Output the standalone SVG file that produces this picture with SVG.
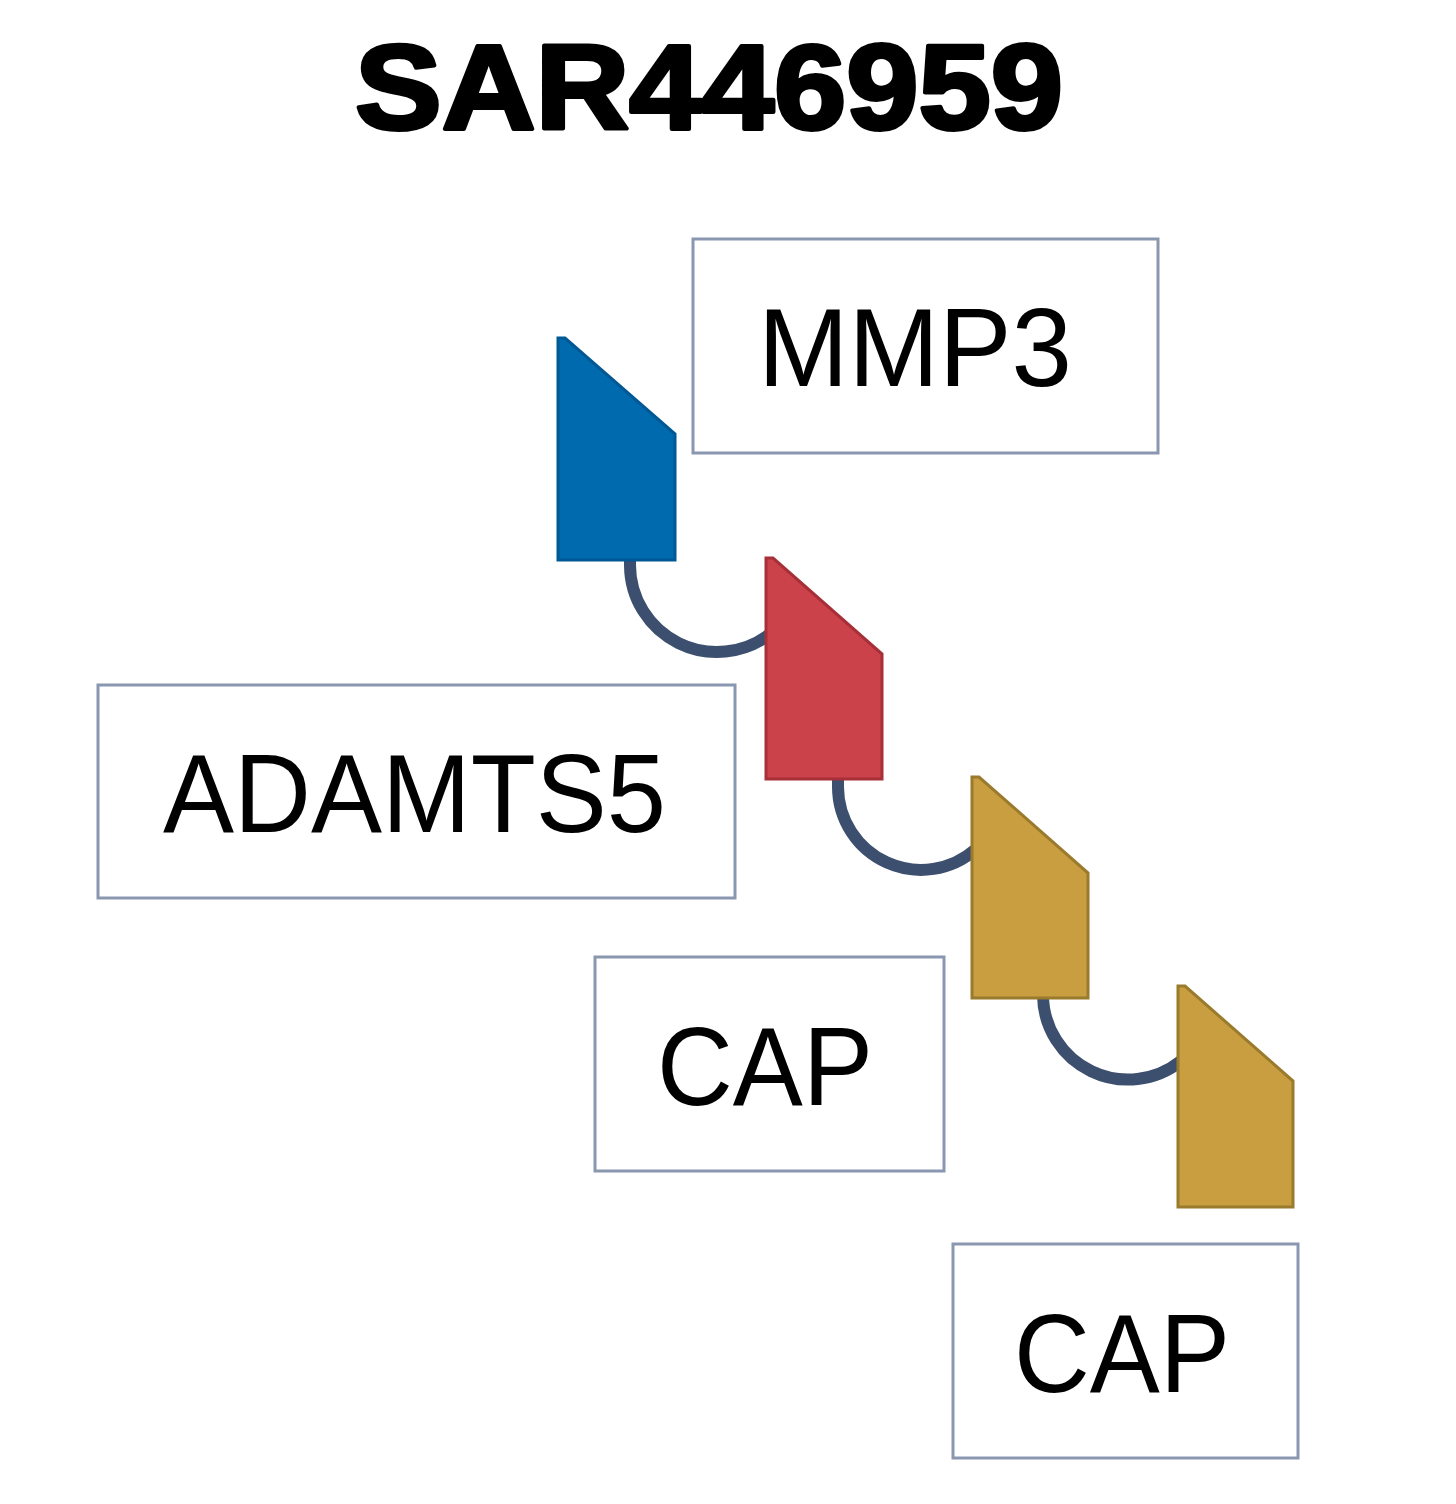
<svg xmlns="http://www.w3.org/2000/svg" width="1456" height="1504" viewBox="0 0 1456 1504">
<style>
.bg{fill:#ffffff}
.title{font-family:"Liberation Sans",Arial,sans-serif;font-weight:bold;font-size:120px;fill:#000;stroke:#000;stroke-width:4px;stroke-linejoin:round}
.box{fill:#ffffff;stroke:#8a97b0;stroke-width:3}
.lbl{font-family:"Liberation Sans",Arial,sans-serif;font-size:112px;fill:#000}
.link{fill:none;stroke:#3d4f6e;stroke-width:12}
.blue{fill:#006aae;stroke:#005894;stroke-width:3}
.red{fill:#cc424b;stroke:#a62f38;stroke-width:3}
.gold{fill:#c99e40;stroke:#9a7a2c;stroke-width:3}
</style>
<rect class="bg" x="0" y="0" width="1456" height="1504"/>
<text class="title" x="355" y="129" textLength="708" lengthAdjust="spacingAndGlyphs">SAR446959</text>
<g id="connectors">
<path class="link" d="M630,558 L630,565 A87,87 0 0 0 770,634"/>
<path class="link" d="M838,777 L838,787 A83,83 0 0 0 976,849"/>
<path class="link" d="M1043,996 L1043,995 A85,85 0 0 0 1181,1061"/>
</g>
<g id="unit-mmp3"><polygon class="blue" points="558,338 565,338 675,434 675,560 558,560"/></g>
<g id="unit-adamts5"><polygon class="red" points="766,558 773,558 882,654 882,779 766,779"/></g>
<g id="unit-cap1"><polygon class="gold" points="972,777 979,777 1088,873 1088,998 972,998"/></g>
<g id="unit-cap2"><polygon class="gold" points="1178,986 1185,986 1293,1081 1293,1207 1178,1207"/></g>
<g id="label-mmp3">
<rect class="box" x="693" y="239" width="465" height="214"/>
<text class="lbl" x="758" y="386" textLength="314" lengthAdjust="spacingAndGlyphs">MMP3</text>
</g>
<g id="label-adamts5">
<rect class="box" x="98" y="685" width="637" height="213"/>
<text class="lbl" x="163" y="832" textLength="503" lengthAdjust="spacingAndGlyphs">ADAMTS5</text>
</g>
<g id="label-cap1">
<rect class="box" x="595" y="957" width="349" height="214"/>
<text class="lbl" x="657" y="1105" textLength="216" lengthAdjust="spacingAndGlyphs">CAP</text>
</g>
<g id="label-cap2">
<rect class="box" x="953" y="1244" width="345" height="214"/>
<text class="lbl" x="1014" y="1392" textLength="216" lengthAdjust="spacingAndGlyphs">CAP</text>
</g>
</svg>
